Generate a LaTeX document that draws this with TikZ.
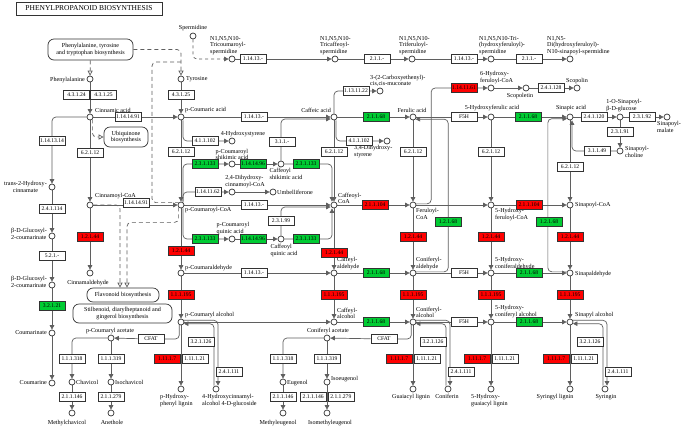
\documentclass[tikz,border=0pt]{standalone}
\usepackage{fontspec}
\setmainfont{Liberation Serif}
\usepackage{tikz}
\usetikzlibrary{arrows.meta, calc, positioning, backgrounds}
\definecolor{kred}{RGB}{255,0,0}
\definecolor{kgreen}{RGB}{0,204,51}
\definecolor{kline}{RGB}{95,95,95}
\newcommand\cpdfont{\fontsize{6.1}{6.7}\selectfont}
\newcommand\enzfont{\fontsize{5.6}{6}\selectfont}
\newcommand\titlefont{\fontsize{7.5}{8}\selectfont}
% columns of the grid
\def\colA{52}
\def\colB{90}
\def\colC{181}
\def\colD{334}
\def\colE{413}
\def\colF{491}
\def\colG{570}
% rows of the grid
\def\rowSpd{59}
\def\rowAmino{79}
\def\rowAcid{117}
\def\rowCoA{205}
\def\rowAld{273}
\def\rowAlc{322}
\def\rowLig{389}

\tikzset{
  cpd/.style={circle, draw=black!80, fill=white, line width=0.7pt, inner sep=0pt, minimum size=6pt},
  lbl/.style={inner sep=0pt, font=\cpdfont, align=left},
  enz/.style={draw=black!80, fill=white, line width=0.6pt, inner sep=0pt, minimum width=26pt, minimum height=9pt, font=\enzfont},
  enzR/.style={enz, fill=kred},
  enzG/.style={enz, fill=kgreen},
  mapbox/.style={draw=black!80, fill=white, rounded corners=6pt, line width=0.7pt, inner sep=0pt, font=\cpdfont, align=center},
  rxn/.style={draw=kline, line width=0.7pt, rounded corners=4pt, -{Triangle[length=4.5pt,width=4.5pt]}},
  maplink/.style={draw=kline, line width=0.7pt, rounded corners=4pt, dashed, dash pattern=on 4pt off 3pt},
  maparrow/.style={maplink, -{Triangle[open,length=5pt,width=5pt]}},
}

\begin{document}
\begin{tikzpicture}[x=1pt, y=-1pt]
\useasboundingbox (0,0) rectangle (685,432);

% Title and map links
\node[draw=black!80, fill=white, line width=0.7pt, minimum width=146pt, minimum height=13pt, inner sep=0pt, font=\titlefont] (title) at (89,8.5) {PHENYLPROPANOID BIOSYNTHESIS};
\node[mapbox, minimum width=85pt, minimum height=21pt] (pheTyrMap) at (90.5,49.5) {Phenylalanine, tyrosine\\and tryptophan biosynthesis};
\node[mapbox, minimum width=44pt, minimum height=20pt] (ubqMap) at (126,137) {Ubiquinone\\biosynthesis};
\node[mapbox, minimum width=72pt, minimum height=14pt] (flavMap) at (123,295) {Flavonoid biosynthesis};
\node[mapbox, minimum width=99pt, minimum height=19pt] (stilMap) at (122.5,313.5) {Stilbenoid, diarylheptanoid and\\gingerol biosynthesis};

% Draw compounds of the grid
\foreach \c/\x in {B/\colB, C/\colC, D/\colD, E/\colE, F/\colF, G/\colG} {
  \node[cpd] (acid\c) at (\x,\rowAcid) {};
  \node[cpd] (coa\c) at (\x,\rowCoA) {};
  \node[cpd] (ald\c) at (\x,\rowAld) {};
}
\foreach \c/\x in {C/\colC, D/\colD, E/\colE, F/\colF, G/\colG}
  \node[cpd] (alc\c) at (\x,\rowAlc) {};
\foreach \c/\x in {C/\colC, E/\colE, F/\colF, G/\colG}
  \node[cpd] (lig\c) at (\x,\rowLig) {};
\foreach \c/\x in {C/\colC, E/\colE, G/\colG}
  \node[cpd] (glc\c) at (\x+35,\rowLig) {};

% Draw other compounds
\node[cpd] (phe) at (\colB,\rowAmino) {};
\node[cpd] (tyr) at (\colC,\rowAmino) {};
\node[cpd] (spd) at (193,36) {};
\node[cpd] (triCou) at (232,\rowSpd) {};
\node[cpd] (triCaf) at (335,\rowSpd) {};
\node[cpd] (triFer) at (412,\rowSpd) {};
\node[cpd] (triHyd) at (491,\rowSpd) {};
\node[cpd] (diHyd) at (570,\rowSpd) {};
\node[cpd] (hydCin) at (\colA,187) {};
\node[cpd] (glcCoumA) at (\colA,236) {};
\node[cpd] (glcCoumB) at (\colA,285) {};
\node[cpd] (coumarinate) at (\colA,333) {};
\node[cpd] (coumarine) at (\colA,383) {};
\node[cpd] (hStyrene) at (232,141) {};
\node[cpd] (dhStyrene) at (387,141) {};
\node[cpd] (muconate) at (380,91) {};
\node[cpd] (pcouShik) at (232,164) {};
\node[cpd] (cafShik) at (281,164) {};
\node[cpd] (dhCinCoA) at (232,192) {};
\node[cpd] (umbel) at (273,192) {};
\node[cpd] (pcouQuin) at (232,239) {};
\node[cpd] (cafQuin) at (281,239) {};
\node[cpd] (hFerCoA6) at (491,88) {};
\node[cpd] (scopoletin) at (526,88) {};
\node[cpd] (scopolin) at (577,88) {};
\node[cpd] (sinGlc) at (620,\rowAcid) {};
\node[cpd] (sinMalate) at (667,\rowAcid) {};
\node[cpd] (sinCholine) at (620,151) {};
\node[cpd] (pcouAcet) at (111,338) {};
\node[cpd] (conAcet) at (327,338) {};
\node[cpd] (chavicol) at (72,382) {};
\node[cpd] (isochavicol) at (111,382) {};
\node[cpd] (mChavicol) at (72,413) {};
\node[cpd] (anethole) at (111,413) {};
\node[cpd] (eugenol) at (283,382) {};
\node[cpd] (isoeugenol) at (327,382) {};
\node[cpd] (mEugenol) at (283,413) {};
\node[cpd] (imEugenol) at (327,413) {};

% Draw labels
\node[lbl, anchor=east] (pheL) at (85,80) {Phenylalanine};
\node[lbl, anchor=west] (tyrL) at (186,79) {Tyrosine};
\node[lbl, anchor=south] (spdL) at (193,31) {Spermidine};
\node[lbl, anchor=south west] (triCouL) at (210,55) {N1,N5,N10-\\Tricoumaroyl-\\spermidine};
\node[lbl, anchor=south west] (triCafL) at (320,55) {N1,N5,N10-\\Tricaffeoyl-\\spermidine};
\node[lbl, anchor=south west] (triFerL) at (399,55) {N1,N5,N10-\\Triferuloyl-\\spermidine};
\node[lbl, anchor=south west] (triHydL) at (479,55) {N1,N5,N10-Tri-\\(hydroxyferuloyl)-\\spermidine};
\node[lbl, anchor=south west] (diHydL) at (547,55) {N1,N5-\\Di(hydroxyferuloyl)-\\N10-sinapoyl-spermidine};
\node[lbl, anchor=south west] (cinL) at (95,113) {Cinnamic acid};
\node[lbl, anchor=south west] (pcouL) at (185,113) {p-Coumaric acid};
\node[lbl, anchor=south east] (cafL) at (331,113) {Caffeic acid};
\node[lbl, anchor=south] (ferL) at (412,113) {Ferulic acid};
\node[lbl, anchor=south] (hferL) at (492,111) {5-Hydroxyferulic acid};
\node[lbl, anchor=south] (sinL) at (571,111) {Sinapic acid};
\node[lbl, anchor=south] (sinGlcL) at (624,112) {1-O-Sinapoyl-\\β-D-glucose};
\node[lbl, anchor=north west] (sinMalL) at (657,121) {Sinapoyl-\\malate};
\node[lbl, anchor=west] (sinChoL) at (625,152) {Sinapoyl-\\choline};
\node[lbl, anchor=south] (hStyL) at (243,137) {4-Hydroxystyrene};
\node[lbl, anchor=north west] (dhStyL) at (354,145) {3,4-Dihydroxy-\\styrene};
\node[lbl, anchor=south west] (mucL) at (370,87) {3-(2-Carboxyethenyl)-\\cis,cis-muconate};
\node[lbl, anchor=south west] (hFerCoA6L) at (480,84) {6-Hydroxy-\\feruloyl-CoA};
\node[lbl, anchor=north] (scopoletinL) at (520,93) {Scopoletin};
\node[lbl, anchor=south] (scopolinL) at (577,84) {Scopolin};
\node[lbl, anchor=east, align=center] (hydCinL) at (47,187) {trans-2-Hydroxy-\\cinnamate};
\node[lbl, anchor=east] (glcCoumAL) at (47,234) {β-D-Glucosyl-\\2-coumarinate};
\node[lbl, anchor=east] (glcCoumBL) at (47,282) {β-D-Glucosyl-\\2-coumarinate};
\node[lbl, anchor=east] (coumarinateL) at (47,333) {Coumarinate};
\node[lbl, anchor=east] (coumarineL) at (47,383) {Coumarine};
\node[lbl, anchor=south] (pcouShikL) at (232,160) {p-Coumaroyl\\shikimic acid};
\node[lbl, anchor=north] (cafShikL) at (286,168) {Caffeoyl\\shikimic acid};
\node[lbl, anchor=south] (dhCinCoAL) at (245,188) {2,4-Dihydroxy-\\cinnamoyl-CoA};
\node[lbl, anchor=west] (umbelL) at (277,192) {Umbelliferone};
\node[lbl, anchor=south] (pcouQuinL) at (233,235) {p-Coumaroyl\\quinic acid};
\node[lbl, anchor=north] (cafQuinL) at (284,244) {Caffeoyl\\quinic acid};
\node[lbl, anchor=south west] (cinCoAL) at (95,199) {Cinnamoyl-CoA};
\node[lbl, anchor=north west] (pcouCoAL) at (185,207) {p-Coumaroyl-CoA};
\node[lbl, anchor=south west] (cafCoAL) at (338,204) {Caffeoyl-\\CoA};
\node[lbl, anchor=north west] (ferCoAL) at (416,208) {Feruloyl-\\CoA};
\node[lbl, anchor=north west] (hferCoAL) at (495,208) {5-Hydroxy-\\feruloyl-CoA};
\node[lbl, anchor=west] (sinCoAL) at (575,205) {Sinapoyl-CoA};
\node[lbl, anchor=north] (cinAldL) at (88,280) {Cinnamaldehyde};
\node[lbl, anchor=south west] (pcouAldL) at (185,271) {p-Coumaraldehyde};
\node[lbl, anchor=south west] (cafAldL) at (337,270) {Caffeyl-\\aldehyde};
\node[lbl, anchor=south west] (conAldL) at (416,270) {Coniferyl-\\aldehyde};
\node[lbl, anchor=south west] (hconAldL) at (495,270) {5-Hydroxy-\\coniferaldehyde};
\node[lbl, anchor=west] (sinAldL) at (575,274) {Sinapaldehyde};
\node[lbl, anchor=south west] (pcouAlcL) at (185,318) {p-Coumaryl alcohol};
\node[lbl, anchor=south west] (cafAlcL) at (337,319) {Caffeyl-\\alcohol};
\node[lbl, anchor=south west] (conAlcL) at (416,318) {Coniferyl-\\alcohol};
\node[lbl, anchor=south west] (hconAlcL) at (495,318) {5-Hydroxy-\\coniferyl alcohol};
\node[lbl, anchor=south west] (sinAlcL) at (575,318) {Sinapyl alcohol};
\node[lbl, anchor=south] (pcouAcetL) at (110,334) {p-Coumaryl acetate};
\node[lbl, anchor=south] (conAcetL) at (328,334) {Coniferyl acetate};
\node[lbl, anchor=west] (chavicolL) at (76,382) {Chavicol};
\node[lbl, anchor=west] (isochavicolL) at (115,382) {Isochavicol};
\node[lbl, anchor=north] (mChavicolL) at (67,420) {Methylchavicol};
\node[lbl, anchor=north] (anetholeL) at (112,420) {Anethole};
\node[lbl, anchor=west] (eugenolL) at (287,383) {Eugenol};
\node[lbl, anchor=west] (isoeugenolL) at (331,379) {Isoeugenol};
\node[lbl, anchor=north] (mEugenolL) at (278,420) {Methyleugenol};
\node[lbl, anchor=north] (imEugenolL) at (330,420) {Isomethyleugenol};
\node[lbl, anchor=north west] (ligCL) at (160,394) {p-Hydroxy-\\phenyl lignin};
\node[lbl, anchor=north west] (glcCL) at (202,394) {4-Hydroxycinnamyl-\\alcohol 4-D-glucoside};
\node[lbl, anchor=north] (ligEL) at (411,394) {Guaiacyl lignin};
\node[lbl, anchor=north] (glcEL) at (447,394) {Coniferin};
\node[lbl, anchor=north west] (ligFL) at (471,394) {5-Hydroxy-\\guaiacyl lignin};
\node[lbl, anchor=north] (ligGL) at (555,394) {Syringyl lignin};
\node[lbl, anchor=north] (glcGL) at (606,394) {Syringin};

% Draw enzymes of the grid columns
\foreach \c/\x/\ya/\yb in {B/\colB/153/237, C/\colC/152/251, D/\colD/152/253, E/\colE/152/237, F/\colF/152/237, G/\colG/167/237} {
  \node[enz] (cl\c) at (\x,\ya) {6.2.1.12};
  \node[enzR] (ccr\c) at (\x,\yb) {1.2.1.44};
}
\foreach \c/\x in {C/\colC, D/\colD, E/\colE, F/\colF, G/\colG}
  \node[enzR] (cad\c) at (\x,295) {1.1.1.195};
\foreach \c/\x in {C/\colC, E/\colE, F/\colF, G/\colG} {
  \node[enzR, anchor=east] (prx\c) at (\x-0.5,359) {1.11.1.7};
  \node[enz, anchor=west] (lac\c) at (\x+0.5,359) {1.11.1.21};
}
\foreach \c/\x in {C/\colC, E/\colE, G/\colG} {
  \node[enz] (bglu\c) at (\x+20,342) {3.2.1.126};
  \node[enz] (ugt\c) at (\x+48,372) {2.4.1.111};
}

% Draw other enzymes
\node[enz] (palA) at (76.5,95) {4.3.1.24};
\node[enz] (palB) at (103.5,95) {4.3.1.25};
\node[enz] (tal) at (\colC,95) {4.3.1.25};
\node[enz] (c4h) at (128,\rowAcid) {1.14.14.91};
\node[enz] (c2h) at (\colA,141) {1.14.13.14};
\node[enz] (glcT) at (\colA,209) {2.4.1.114};
\node[enz] (isom) at (\colA,256) {5.2.1.-};
\node[enzG] (bgluA) at (\colA,306) {3.2.1.21};
\node[enz] (c4hCoA) at (136,203) {1.14.14.91};
\node[enz] (c3hAcid) at (254,\rowAcid) {1.14.13.-};
\node[enz] (padA) at (205,141) {4.1.1.102};
\node[enzG] (hctA) at (205,164) {2.3.1.133};
\node[enzG] (c3hShik) at (253,164) {1.14.14.96};
\node[enzG] (hctB) at (306,164) {2.3.1.133};
\node[enz] (cse) at (282,142) {3.1.1.-};
\node[enz] (c2hCoA) at (208,192) {1.14.11.62};
\node[enz] (c3hCoA) at (254,\rowCoA) {1.14.13.-};
\node[enzG] (hqtA) at (205,239) {2.3.1.133};
\node[enzG] (c3hQuin) at (253,239) {1.14.14.96};
\node[enzG] (hqtB) at (306,239) {2.3.1.133};
\node[enz] (hqt) at (281,221) {2.3.1.99};
\node[enz] (c3hAld) at (254,\rowAld) {1.14.13.-};
\node[enz] (cfatA) at (151,339) {CFAT};
\node[enz] (eglA) at (72,359) {1.1.1.318};
\node[enz] (iglA) at (111,359) {1.1.1.319};
\node[enz] (omtChav) at (72,397) {2.1.1.146};
\node[enz] (omtIsoch) at (111,397) {2.1.1.279};
\node[enz] (sptA) at (253,\rowSpd) {1.14.13.-};
\node[enz] (sptB) at (377,\rowSpd) {2.1.1.-};
\node[enz] (sptC) at (464,\rowSpd) {1.14.13.-};
\node[enz] (sptD) at (529,\rowSpd) {2.1.1.-};
\node[enz] (dioxy) at (356,91) {1.13.11.22};
\node[enzG] (comtAcid) at (376,\rowAcid) {2.1.1.68};
\node[enz] (padB) at (359,141) {4.1.1.102};
\node[enzR] (ccoaomtA) at (375,\rowCoA) {2.1.1.104};
\node[enzG] (comtAld) at (376,\rowAld) {2.1.1.68};
\node[enzG] (comtAlc) at (376,\rowAlc) {2.1.1.68};
\node[enz] (cfatB) at (384,339) {CFAT};
\node[enz] (eglB) at (283,359) {1.1.1.318};
\node[enz] (iglB) at (327,359) {1.1.1.319};
\node[enz] (omtEug) at (283,397) {2.1.1.146};
\node[enz, anchor=east] (omtIsoA) at (326.5,397) {2.1.1.146};
\node[enz, anchor=west] (omtIsoB) at (327.5,397) {2.1.1.279};
\node[enzR] (f6h) at (464,88) {1.14.11.61};
\node[enz] (scopGT) at (551,88) {2.4.1.128};
\node[enz] (f5hAcid) at (464,\rowAcid) {F5H};
\node[enzG] (comtHfer) at (528,\rowAcid) {2.1.1.68};
\node[enzR] (ccoaomtB) at (529,\rowCoA) {2.1.1.104};
\node[enzG] (caldA) at (448,222) {1.2.1.68};
\node[enzG] (caldB) at (549,222) {1.2.1.68};
\node[enz] (f5hAld) at (464,\rowAld) {F5H};
\node[enzG] (comtHald) at (529,\rowAld) {2.1.1.68};
\node[enz] (f5hAlc) at (464,\rowAlc) {F5H};
\node[enzG] (comtHalc) at (529,\rowAlc) {2.1.1.68};
\node[enz] (sgt) at (594,\rowAcid) {2.4.1.120};
\node[enz] (smt) at (642,\rowAcid) {2.3.1.92};
\node[enz] (sct) at (620,132) {2.3.1.91};
\node[enz] (sce) at (597,151) {3.1.1.49};

\begin{scope}[on background layer]
\fill[white] (0,0) rectangle (685,432);

% Draw main columns
\foreach \c in {B,C,D,E,F,G} {
  \draw[rxn] (acid\c) -- (coa\c);
  \draw[rxn] (coa\c) -- (ald\c);
}
\foreach \c in {C,D,E,F,G}
  \draw[rxn] (ald\c) -- (alc\c);
\foreach \c in {C,E,F,G}
  \draw[rxn] (alc\c) -- (lig\c);
\foreach \c in {C,E,G} {
  \draw[rxn] (alc\c.30) -| ([xshift=2pt]glc\c.north);
  \draw[rxn] ([xshift=-2pt]glc\c.north) |- (alc\c.-30);
}

% Draw straight steps
\foreach \a/\b in {acidB/acidC, acidC/acidD, acidD/acidE, acidE/acidF, acidF/acidG,
    coaB/coaC, coaC/coaD, coaD/coaE, coaE/coaF, coaF/coaG,
    aldC/aldD, aldD/aldE, aldE/aldF, aldF/aldG,
    alcC/alcD, alcD/alcE, alcE/alcF, alcF/alcG,
    phe/acidB, tyr/acidC, triCou/triCaf, triCaf/triFer, triFer/triHyd, triHyd/diHyd,
    hydCin/glcCoumA, glcCoumA/glcCoumB, glcCoumB/coumarinate, coumarinate/coumarine,
    pcouShik/cafShik, dhCinCoA/umbel, pcouQuin/cafQuin,
    acidG/sinGlc, sinGlc/sinMalate, sinGlc/sinCholine, hFerCoA6/scopoletin, scopoletin/scopolin,
    pcouAcet/isochavicol, chavicol/mChavicol, isochavicol/anethole,
    conAcet/isoeugenol, eugenol/mEugenol, isoeugenol/imEugenol}
  \draw[rxn] (\a) -- (\b);

% Draw bent steps
\draw[rxn, dashed] (spd) |- (triCou);
\draw[rxn] (acidB) -| (hydCin);
\draw[rxn] ([xshift=2pt]acidC.south) |- (hStyrene);
\draw[rxn] ([xshift=2pt]coaC.north) |- (pcouShik);
\draw[rxn] ([xshift=2pt]coaC.north) |- (dhCinCoA);
\draw[rxn] ([xshift=2pt]coaC.south) |- (pcouQuin);
\draw[rxn] (cafShik) -| ([xshift=-2pt]coaD.north);
\draw[rxn] (cafShik) |- ([yshift=-2pt]acidD.west);
\draw[rxn] (cafQuin) -| ([xshift=-2pt]coaD.south);
\draw[rxn] (cafQuin) |- ([yshift=-2pt]coaD.west);
\draw[rxn] (acidD) |- (muconate);
\draw[rxn] ([xshift=2pt]acidD.south) |- (dhStyrene);
\draw[rxn] (coaE.20) -- ++(15,0) |- (hFerCoA6);
\draw[rxn] (aldE.20) -- ++(32,0) |- (acidE.-40);
\draw[rxn] (aldG.160) -- ++(-19,0) |- (acidG.-150);
\draw[rxn] (sinCholine) -| ([xshift=2pt]acidG.south);
\draw[rxn] (alcC.-120) |- (cfatA) -- (pcouAcet);
\draw[rxn] (alcE.-120) |- (cfatB) -- (conAcet);
\draw[rxn] (pcouAcet) -| (chavicol);
\draw[rxn] (conAcet) -| (eugenol);

% Draw map links
\coordinate (pcouLink) at (\colC,62);
\draw[maparrow] (pheTyrMap) -- (phe);
\draw[maparrow] (pheTyrMap) -| (tyr);
\draw[maplink] (pcouLink) -- (152,62) |- (coaC.135);
\draw[maparrow] (acidB.-45) |- (ubqMap);
\draw[maparrow] (coaB) -| ([xshift=-3pt]flavMap.north);
\draw[maparrow] (coaC.-135) -- ++(0,15) -| ([xshift=4pt]flavMap.north);
\end{scope}

\end{tikzpicture}
\end{document}
